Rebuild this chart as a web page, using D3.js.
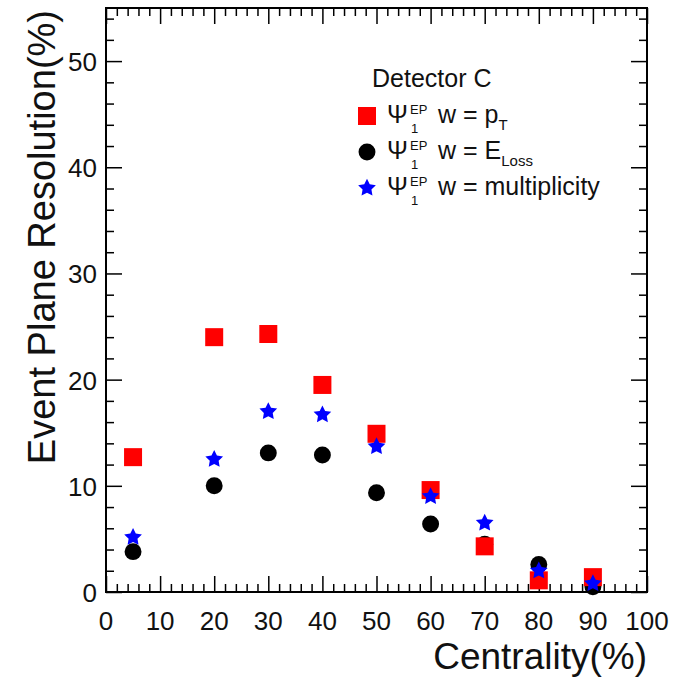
<!DOCTYPE html>
<html>
<head>
<meta charset="utf-8">
<script src="https://cdn.jsdelivr.net/npm/d3@7"></script>
<style>
  body { margin: 0; background: #fff; }
  svg { font-family: 'Liberation Sans', Arial, sans-serif; }
  .axis path { display: none; }
  .axis line { stroke: #000; stroke-width: 1.5; }
</style>
</head>
<body>
<script>
var centrality = [5, 20, 30, 40, 50, 60, 70, 80, 90];
var resPt = [12.7, 24.0, 24.3, 19.5, 14.9, 9.6, 4.3, 1.1, 1.4];
var resELoss = [3.8, 10.0, 13.1, 12.9, 9.35, 6.4, 4.5, 2.6, 0.5];
var resMult = [5.15, 12.5, 17.0, 16.7, 13.7, 9.0, 6.5, 2.0, 0.8];
var xTicks = [0, 10, 20, 30, 40, 50, 60, 70, 80, 90, 100];
var yTicks = [0, 10, 20, 30, 40, 50];

(function() {
  var w = 675;
  var h = 683;
  var left = 106;
  var right = 647;
  var top = 8;
  var bottom = 592;

  var svg = d3
    .select('body')
    .append('svg')
    .attr('width', w)
    .attr('height', h);

  var xScale = d3
    .scaleLinear()
    .domain([0, 100])
    .range([left, right]);

  var yScale = d3
    .scaleLinear()
    .domain([0, 55])
    .range([bottom, top]);

  var xMinor = d3.range(0, 101, 2).filter(d => d % 10 !== 0);
  var yMinor = d3.range(0, 55, 2).filter(d => d % 10 !== 0);

  // ticks on all four sides, pointing inward
  function addAxis(axis, transform) {
    svg
      .append('g')
      .attr('class', 'axis')
      .attr('transform', transform)
      .call(axis);
  }

  addAxis(d3.axisBottom(xScale).tickValues(xTicks).tickSize(-16).tickFormat(''), `translate(0, ${bottom})`);
  addAxis(d3.axisBottom(xScale).tickValues(xMinor).tickSize(-8).tickFormat(''), `translate(0, ${bottom})`);
  addAxis(d3.axisTop(xScale).tickValues(xTicks).tickSize(-16).tickFormat(''), `translate(0, ${top})`);
  addAxis(d3.axisTop(xScale).tickValues(xMinor).tickSize(-8).tickFormat(''), `translate(0, ${top})`);
  addAxis(d3.axisLeft(yScale).tickValues(yTicks).tickSize(-16).tickFormat(''), `translate(${left}, 0)`);
  addAxis(d3.axisLeft(yScale).tickValues(yMinor).tickSize(-8).tickFormat(''), `translate(${left}, 0)`);
  addAxis(d3.axisRight(yScale).tickValues(yTicks).tickSize(-16).tickFormat(''), `translate(${right}, 0)`);
  addAxis(d3.axisRight(yScale).tickValues(yMinor).tickSize(-8).tickFormat(''), `translate(${right}, 0)`);

  svg
    .append('rect')
    .attr('x', left)
    .attr('y', top)
    .attr('width', right - left)
    .attr('height', bottom - top)
    .attr('fill', 'none')
    .attr('stroke', '#000')
    .attr('stroke-width', 2);

  // tick labels
  svg
    .append('g')
    .selectAll('text')
    .data(xTicks)
    .enter()
    .append('text')
    .attr('x', d => xScale(d))
    .attr('y', 630)
    .attr('text-anchor', 'middle')
    .attr('font-size', 26)
    .attr('fill', '#111')
    .text(d => d);

  svg
    .append('g')
    .selectAll('text')
    .data(yTicks)
    .enter()
    .append('text')
    .attr('x', 97)
    .attr('y', d => yScale(d) + 10)
    .attr('text-anchor', 'end')
    .attr('font-size', 26)
    .attr('fill', '#111')
    .text(d => d);

  // axis titles
  svg
    .append('text')
    .attr('x', right)
    .attr('y', 669)
    .attr('text-anchor', 'end')
    .attr('font-size', 37)
    .attr('fill', '#111')
    .text('Centrality(%)');

  svg
    .append('text')
    .attr('transform', `translate(55, ${top + 2}) rotate(-90)`)
    .attr('text-anchor', 'end')
    .attr('font-size', 38)
    .attr('fill', '#111')
    .text('Event Plane Resolution(%)');

  // ROOT-like fat five point star
  var fatStar = {
    draw: function(context, size) {
      var r = Math.sqrt(size) * 0.62;
      var ri = r * 0.5;
      for (var i = 0; i < 10; i++) {
        var a = -Math.PI / 2 + i * Math.PI / 5;
        var rr = i % 2 === 0 ? r : ri;
        if (i === 0) context.moveTo(rr * Math.cos(a), rr * Math.sin(a));
        else context.lineTo(rr * Math.cos(a), rr * Math.sin(a));
      }
      context.closePath();
    }
  };

  // markers: black circles, red squares, blue stars
  var circle = d3.symbol().type(d3.symbolCircle).size(225);
  var square = d3.symbol().type(d3.symbolSquare).size(324);
  var star = d3.symbol().type(fatStar).size(225);

  function addSeries(values, sym, color) {
    svg
      .append('g')
      .selectAll('path')
      .data(values)
      .enter()
      .append('path')
      .attr('d', sym)
      .attr('transform', (d, i) => `translate(${xScale(centrality[i])}, ${yScale(d)})`)
      .attr('fill', color);
  }

  addSeries(resELoss, circle, '#000');
  addSeries(resPt, square, '#ff0000');
  addSeries(resMult, star, '#0000ff');

  // legend
  var legend = svg.append('g').attr('fill', '#111');

  legend
    .append('text')
    .attr('x', 372)
    .attr('y', 87)
    .attr('font-size', 25)
    .text('Detector C');

  var rows = [
    { sym: square, color: '#ff0000', y: 123, main: 'w = p', sub: 'T' },
    { sym: circle, color: '#000', y: 159, main: 'w = E', sub: 'Loss' },
    { sym: star, color: '#0000ff', y: 195, main: 'w = multiplicity', sub: '' }
  ];

  rows.forEach(function(r) {
    legend
      .append('path')
      .attr('d', r.sym)
      .attr('transform', `translate(367, ${r.y - 7})`)
      .attr('fill', r.color);

    legend
      .append('text')
      .attr('x', 387)
      .attr('y', r.y)
      .attr('font-size', 25)
      .text('Ψ');

    legend
      .append('text')
      .attr('x', 410)
      .attr('y', r.y - 9)
      .attr('font-size', 13)
      .text('EP');

    legend
      .append('text')
      .attr('x', 411)
      .attr('y', r.y + 10)
      .attr('font-size', 13)
      .text('1');

    var t = legend
      .append('text')
      .attr('x', 438)
      .attr('y', r.y)
      .attr('font-size', 25)
      .text(r.main);

    if (r.sub) {
      t.append('tspan')
        .attr('dy', 7)
        .attr('font-size', 15)
        .text(r.sub);
    }
  });
})();
</script>
</body>
</html>
